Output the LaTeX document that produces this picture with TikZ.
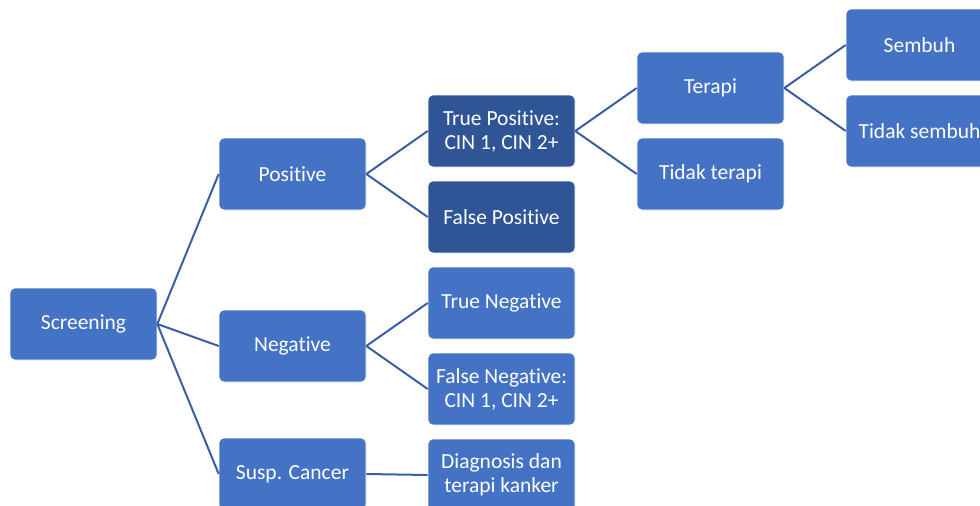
\documentclass[tikz,border=0pt]{standalone}
\usepackage{fontspec}
\setmainfont{Carlito}[Ligatures={NoCommon}]
\definecolor{boxblue}{HTML}{4472C4}
\definecolor{darkblue}{HTML}{2F5597}
\definecolor{linkblue}{HTML}{3A5EA4}
\begin{document}
\begin{tikzpicture}[x=1pt,y=-1pt,
  box/.style={rectangle, rounded corners=5pt, fill=boxblue, draw=white, line width=0.6pt,
    minimum width=147pt, minimum height=72pt, text=white, align=center,
    font=\fontsize{21.5}{24}\selectfont, inner sep=0pt},
  darkbox/.style={box, fill=darkblue},
  link/.style={draw=linkblue, line width=2pt}]
\useasboundingbox (0,0) rectangle (980,506);
\clip (0,0) rectangle (980,506);
\node[box] (scr) at (83.5,324) {Screening};
\node[box] (pos) at (292.5,174) {Positive};
\node[box] (neg) at (292.5,346) {Negative};
\node[box] (sus) at (292.5,474) {Susp. Cancer};
\node[darkbox] (tp) at (501.5,131) {True Positive:\\CIN 1, CIN 2+};
\node[darkbox] (fp) at (501.5,217) {False Positive};
\node[box] (tn) at (501.5,303) {True Negative};
\node[box] (fn) at (501.5,389) {False Negative:\\CIN 1, CIN 2+};
\node[box] (dx) at (501.5,475) {Diagnosis dan\\terapi kanker};
\node[box] (ter) at (710.5,88) {Terapi};
\node[box] (tt) at (710.5,174) {Tidak terapi};
\node[box] (sem) at (919.5,45) {Sembuh};
\node[box] (ts) at (919.5,131) {Tidak sembuh};
\foreach \a/\b in {scr/pos,scr/neg,scr/sus,pos/tp,pos/fp,neg/tn,neg/fn,sus/dx,tp/ter,tp/tt,ter/sem,ter/ts}
  \draw[link] (\a.east) -- (\b.west);
\end{tikzpicture}
\end{document}
